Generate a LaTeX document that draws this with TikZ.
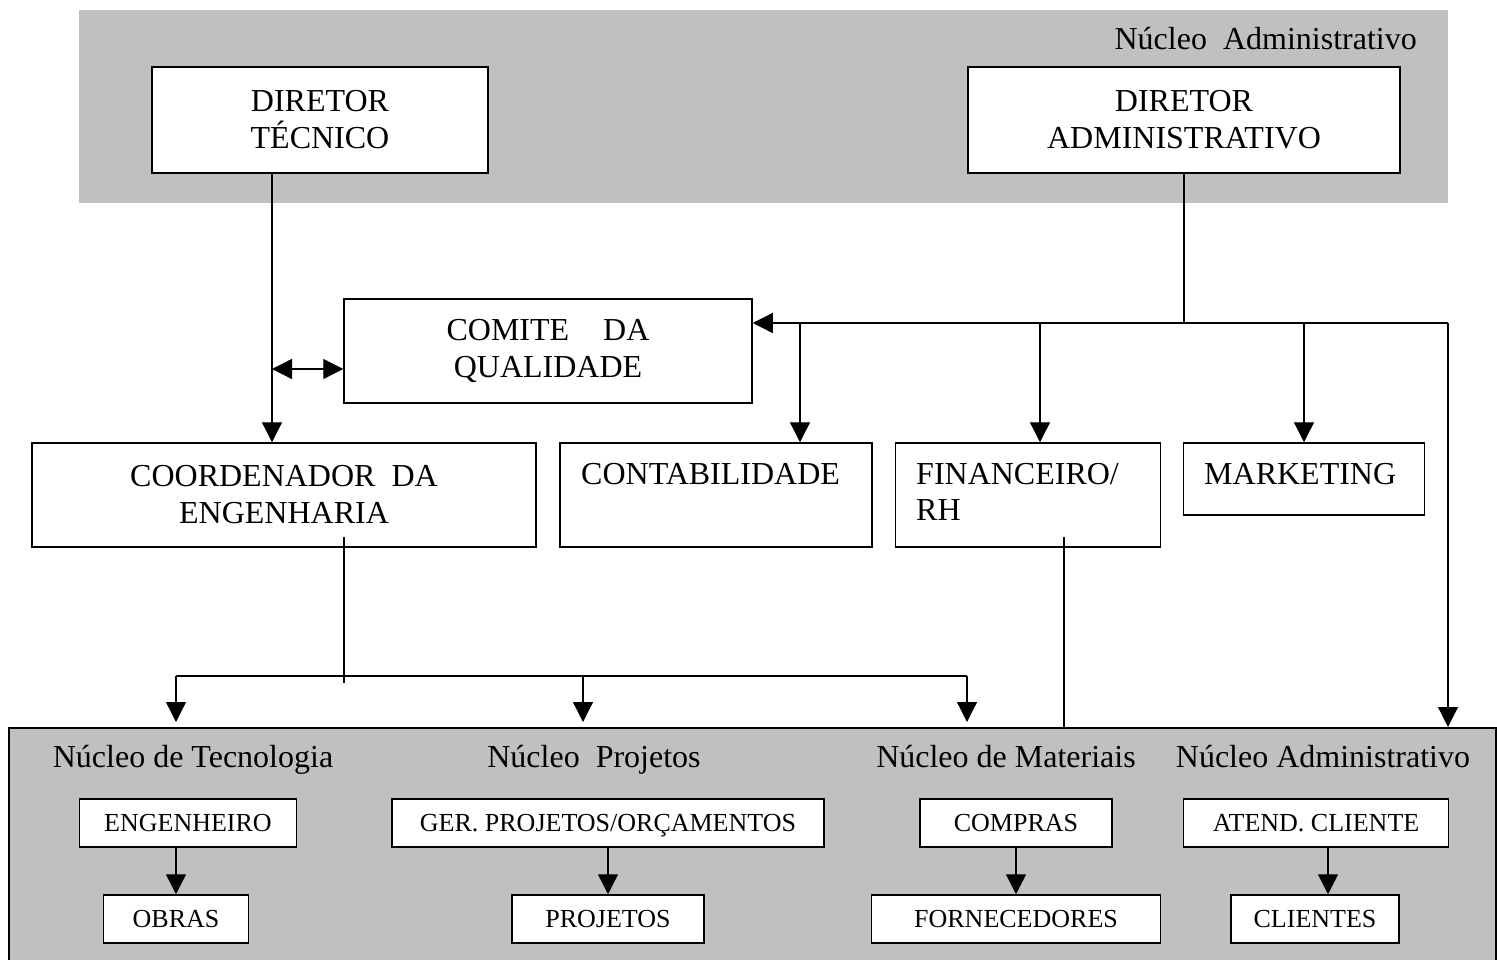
\documentclass[tikz,border=0pt]{standalone}
\usepackage{fontspec}
\setmainfont{Liberation Serif}
\usetikzlibrary{arrows.meta}
\definecolor{bandgray}{HTML}{C0C0C0}
\begin{document}
\begin{tikzpicture}[x=1pt,y=-1pt,
  box/.style={draw, line width=1.5pt, fill=white, inner sep=0pt},
  bigtxt/.style={font=\fontsize{32}{37}\selectfont, align=center, inner sep=0pt},
  smallbox/.style={box, font=\fontsize{26}{30}\selectfont, text height=17.5pt, text depth=0pt, minimum height=48pt},
  conn/.style={line width=1.3pt},
  tip/.style={-{Triangle[length=20pt,width=20pt]}},
  dbl/.style={{Triangle[length=20pt,width=20pt]}-{Triangle[length=20pt,width=20pt]}},
]
\useasboundingbox (0,0) rectangle (1497,960);

% shaded groups
\node[fill=bandgray, inner sep=0pt, anchor=north west, minimum width=1369pt, minimum height=193pt] (upper) at (79,10) {};
\node[draw, line width=1.5pt, fill=bandgray, inner sep=0pt, anchor=north west, minimum width=1487pt, minimum height=235pt] (lower) at (8,727) {};

\node[bigtxt, anchor=base east] (uplab) at (1417,50) {Núcleo\ \ Administrativo};

% directors
\node[box, bigtxt, minimum width=336pt, minimum height=106pt] (dt) at (320,120) {DIRETOR\\TÉCNICO};
\node[box, bigtxt, minimum width=432pt, minimum height=106pt] (da) at (1184,120) {DIRETOR\\ADMINISTRATIVO};

% middle level
\node[box, bigtxt, minimum width=408pt, minimum height=104pt] (comite) at (548,351) {COMITE\hspace{34pt}DA\\QUALIDADE};
\node[box, bigtxt, minimum width=504pt, minimum height=104pt] (coord) at (284,495) {COORDENADOR\ \ DA\\ENGENHARIA};
\node[box, minimum width=312pt, minimum height=104pt] (cont) at (716,495) {};
\node[bigtxt, anchor=base west] (contlab) at (581,484) {CONTABILIDADE};
\node[box, minimum width=265pt, minimum height=104pt] (fin) at (1028,495) {};
\node[bigtxt, anchor=base west, align=left] (finlab) at (916,484) {FINANCEIRO/};
\node[bigtxt, anchor=base west] (finlab2) at (916,520) {RH};
\node[box, minimum width=241pt, minimum height=72pt] (mkt) at (1304,479) {};
\node[bigtxt, anchor=base west] (mktlab) at (1204,484) {MARKETING};

% lower groups
\node[bigtxt, anchor=base] (ntec) at (193,767) {Núcleo de Tecnologia};
\node[bigtxt, anchor=base] (nproj) at (594,767) {Núcleo\ \ Projetos};
\node[bigtxt, anchor=base] (nmat) at (1006,767) {Núcleo de Materiais};
\node[bigtxt, anchor=base] (nadm) at (1323,767) {Núcleo Administrativo};

\node[smallbox, minimum width=217pt] (eng) at (188,823) {ENGENHEIRO};
\node[smallbox, minimum width=145pt] (obras) at (176,919) {OBRAS};
\node[smallbox, minimum width=432pt] (ger) at (608,823) {GER. PROJETOS/ORÇAMENTOS};
\node[smallbox, minimum width=192pt] (proj) at (608,919) {PROJETOS};
\node[smallbox, minimum width=192pt] (compras) at (1016,823) {COMPRAS};
\node[smallbox, minimum width=289pt] (forn) at (1016,919) {FORNECEDORES};
\node[smallbox, minimum width=265pt] (atend) at (1316,823) {ATEND. CLIENTE};
\node[smallbox, minimum width=168pt] (cli) at (1315,919) {CLIENTES};

% technical director branch
\coordinate (tx) at (272,369);
\draw[conn, tip] (dt.south -| tx) -- (coord.north -| tx);
\draw[conn, dbl] (tx) -- (tx -| comite.west);

% administrative director branch
\coordinate (aj) at (1184,323);
\coordinate (ar) at (1448,323);
\coordinate (b1) at (800,323);
\coordinate (b2) at (1040,323);
\coordinate (b3) at (1304,323);
\draw[conn] (da.south -| aj) -- (aj);
\draw[conn, tip] (ar) -- (aj -| comite.east);
\draw[conn, tip] (ar) -- (ar |- lower.north);
\draw[conn, tip] (b1) -- (b1 |- cont.north);
\draw[conn, tip] (b2) -- (b2 |- fin.north);
\draw[conn, tip] (b3) -- (b3 |- mkt.north);

% engineering coordinator branch
\coordinate (cs) at (344,537);
\coordinate (ce) at (344,683);
\coordinate (hl) at (176,676);
\coordinate (hm) at (583,676);
\coordinate (hr) at (967,676);
\draw[conn] (cs) -- (ce);
\draw[conn] (hl) -- (hr);
\draw[conn, tip] (hl) -- (176,722);
\draw[conn, tip] (hm) -- (583,722);
\draw[conn, tip] (hr) -- (967,722);

% finance link
\coordinate (fs) at (1064,537);
\draw[conn] (fs) -- (fs |- lower.north);

% inside the groups
\draw[conn, tip] (obras.north |- eng.south) -- (obras.north);
\draw[conn, tip] (ger.south) -- (proj.north);
\draw[conn, tip] (compras.south) -- (forn.north);
\coordinate (ax) at (1328,847);
\draw[conn, tip] (ax) -- (ax |- cli.north);
\end{tikzpicture}
\end{document}
